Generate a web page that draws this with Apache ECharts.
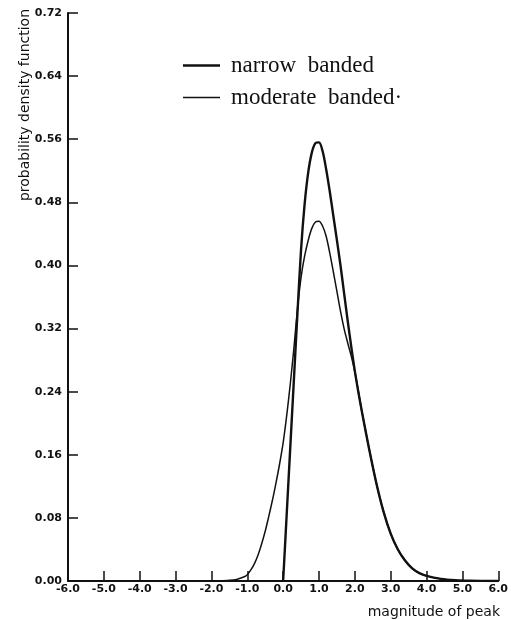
<!DOCTYPE html>
<html>
<head>
<meta charset="utf-8">
<script src="https://cdn.jsdelivr.net/npm/echarts@6/dist/echarts.min.js"></script>
<style>
  html, body { margin: 0; padding: 0; background: #fff; }
  #chart { width: 511px; height: 620px; }
</style>
</head>
<body>
<div id="chart"></div>
<script>
// values
const seriesNames = ['narrow  banded', 'moderate  banded\u00b7'];

const narrowX = [0, 0.05, 0.1, 0.2, 0.3, 0.4, 0.5, 0.6, 0.7, 0.8, 0.9, 1.0, 1.1, 1.2, 1.3, 1.4, 1.5, 1.6, 1.7, 1.8, 1.9, 2.0, 2.1, 2.2, 2.4, 2.6, 2.8, 3.0, 3.2, 3.4, 3.6, 3.8, 4.0, 4.4, 4.8, 5.2, 5.6, 6.0];
const narrowY = [0, 0.042, 0.085, 0.17, 0.255, 0.34, 0.42, 0.478, 0.518, 0.543, 0.555, 0.556, 0.545, 0.522, 0.494, 0.463, 0.432, 0.400, 0.365, 0.330, 0.297, 0.266, 0.239, 0.214, 0.167, 0.124, 0.088, 0.060, 0.040, 0.026, 0.016, 0.010, 0.0065, 0.0027, 0.001, 0.0003, 0.0001, 0];

const moderateX = [-1.8, -1.5, -1.3, -1.1, -1.0, -0.9, -0.8, -0.7, -0.6, -0.5, -0.4, -0.3, -0.2, -0.1, 0, 0.1, 0.2, 0.3, 0.4, 0.5, 0.6, 0.7, 0.8, 0.9, 1.0, 1.1, 1.2, 1.3, 1.4, 1.5, 1.6, 1.7, 1.8, 1.9, 2.0, 2.1, 2.2, 2.4, 2.6, 2.8, 3.0, 3.2, 3.4, 3.6, 3.8, 4.0, 4.4, 4.8, 5.2, 5.6, 6.0];
const moderateY = [0, 0.0008, 0.002, 0.005, 0.008, 0.014, 0.022, 0.033, 0.047, 0.063, 0.082, 0.102, 0.124, 0.148, 0.175, 0.21, 0.25, 0.295, 0.345, 0.385, 0.412, 0.432, 0.447, 0.455, 0.456, 0.450, 0.437, 0.416, 0.392, 0.367, 0.342, 0.320, 0.302, 0.285, 0.265, 0.240, 0.214, 0.167, 0.124, 0.088, 0.060, 0.040, 0.026, 0.016, 0.010, 0.0065, 0.0027, 0.001, 0.0003, 0.0001, 0];

const xTicks = [-6, -5, -4, -3, -2, -1, 0, 1, 2, 3, 4, 5, 6];
const yTicks = [0, 0.08, 0.16, 0.24, 0.32, 0.40, 0.48, 0.56, 0.64, 0.72];

const pair = (xs, ys) => xs.map((x, i) => [x, ys[i]]);

const ink = '#111';
const tickFont = { color: ink, fontFamily: 'DejaVu Sans', fontWeight: 'bold', fontSize: 11 };

const chart = echarts.init(document.getElementById('chart'), null, { renderer: 'canvas' });

chart.setOption({
	animation: false,
	backgroundColor: '#fff',
	grid: { left: 68, right: 11, top: 13, bottom: 39 },
	legend: {
		orient: 'vertical',
		left: 178,
		top: 49,
		itemWidth: 37,
		itemHeight: 18,
		itemGap: 9,
		data: [
			{ name: seriesNames[0], icon: 'path://M0,0H37V2.4H0Z' },
			{ name: seriesNames[1], icon: 'path://M0,0H37V1.5H0Z' }
		],
		itemStyle: { color: ink, borderWidth: 0 },
		lineStyle: { width: 0 },
		textStyle: {
			color: ink,
			fontFamily: 'Liberation Serif',
			fontSize: 23,
			padding: [0, 0, 0, 6]
		}
	},
	xAxis: {
		type: 'value',
		min: xTicks[0],
		max: xTicks[xTicks.length - 1],
		interval: 1,
		axisLine: { onZero: false, lineStyle: { color: ink, width: 2 } },
		axisTick: { inside: true, length: 10, lineStyle: { color: ink, width: 1.5 } },
		axisLabel: { ...tickFont, margin: 3, formatter: v => v.toFixed(1) },
		splitLine: { show: false }
	},
	yAxis: {
		type: 'value',
		min: yTicks[0],
		max: yTicks[yTicks.length - 1],
		interval: 0.08,
		axisLine: { show: true, onZero: false, lineStyle: { color: ink, width: 2 } },
		axisTick: { show: true, inside: true, length: 10, lineStyle: { color: ink, width: 1.5 } },
		axisLabel: { ...tickFont, margin: 6, formatter: v => v.toFixed(2) },
		splitLine: { show: false }
	},
	graphic: [
		{
			type: 'text',
			x: 25,
			y: 105,
			rotation: Math.PI / 2,
			style: {
				text: 'probability density function',
				fill: ink,
				font: '14px "DejaVu Sans"',
				align: 'center',
				verticalAlign: 'middle'
			}
		},
		{
			type: 'text',
			x: 500,
			y: 612,
			style: {
				text: 'magnitude of peak',
				fill: ink,
				font: '14px "DejaVu Sans"',
				align: 'right',
				verticalAlign: 'middle'
			}
		}
	],
	series: [
		{
			name: seriesNames[0],
			type: 'line',
			data: pair(narrowX, narrowY),
			symbol: 'none',
			smooth: 0.3,
			lineStyle: { color: ink, width: 2.4 },
			itemStyle: { color: ink },
			z: 3
		},
		{
			name: seriesNames[1],
			type: 'line',
			data: pair(moderateX, moderateY),
			symbol: 'none',
			smooth: 0.3,
			lineStyle: { color: ink, width: 1.5 },
			itemStyle: { color: ink },
			z: 2
		}
	]
});

window.addEventListener('resize', () => chart.resize());
</script>
</body>
</html>
